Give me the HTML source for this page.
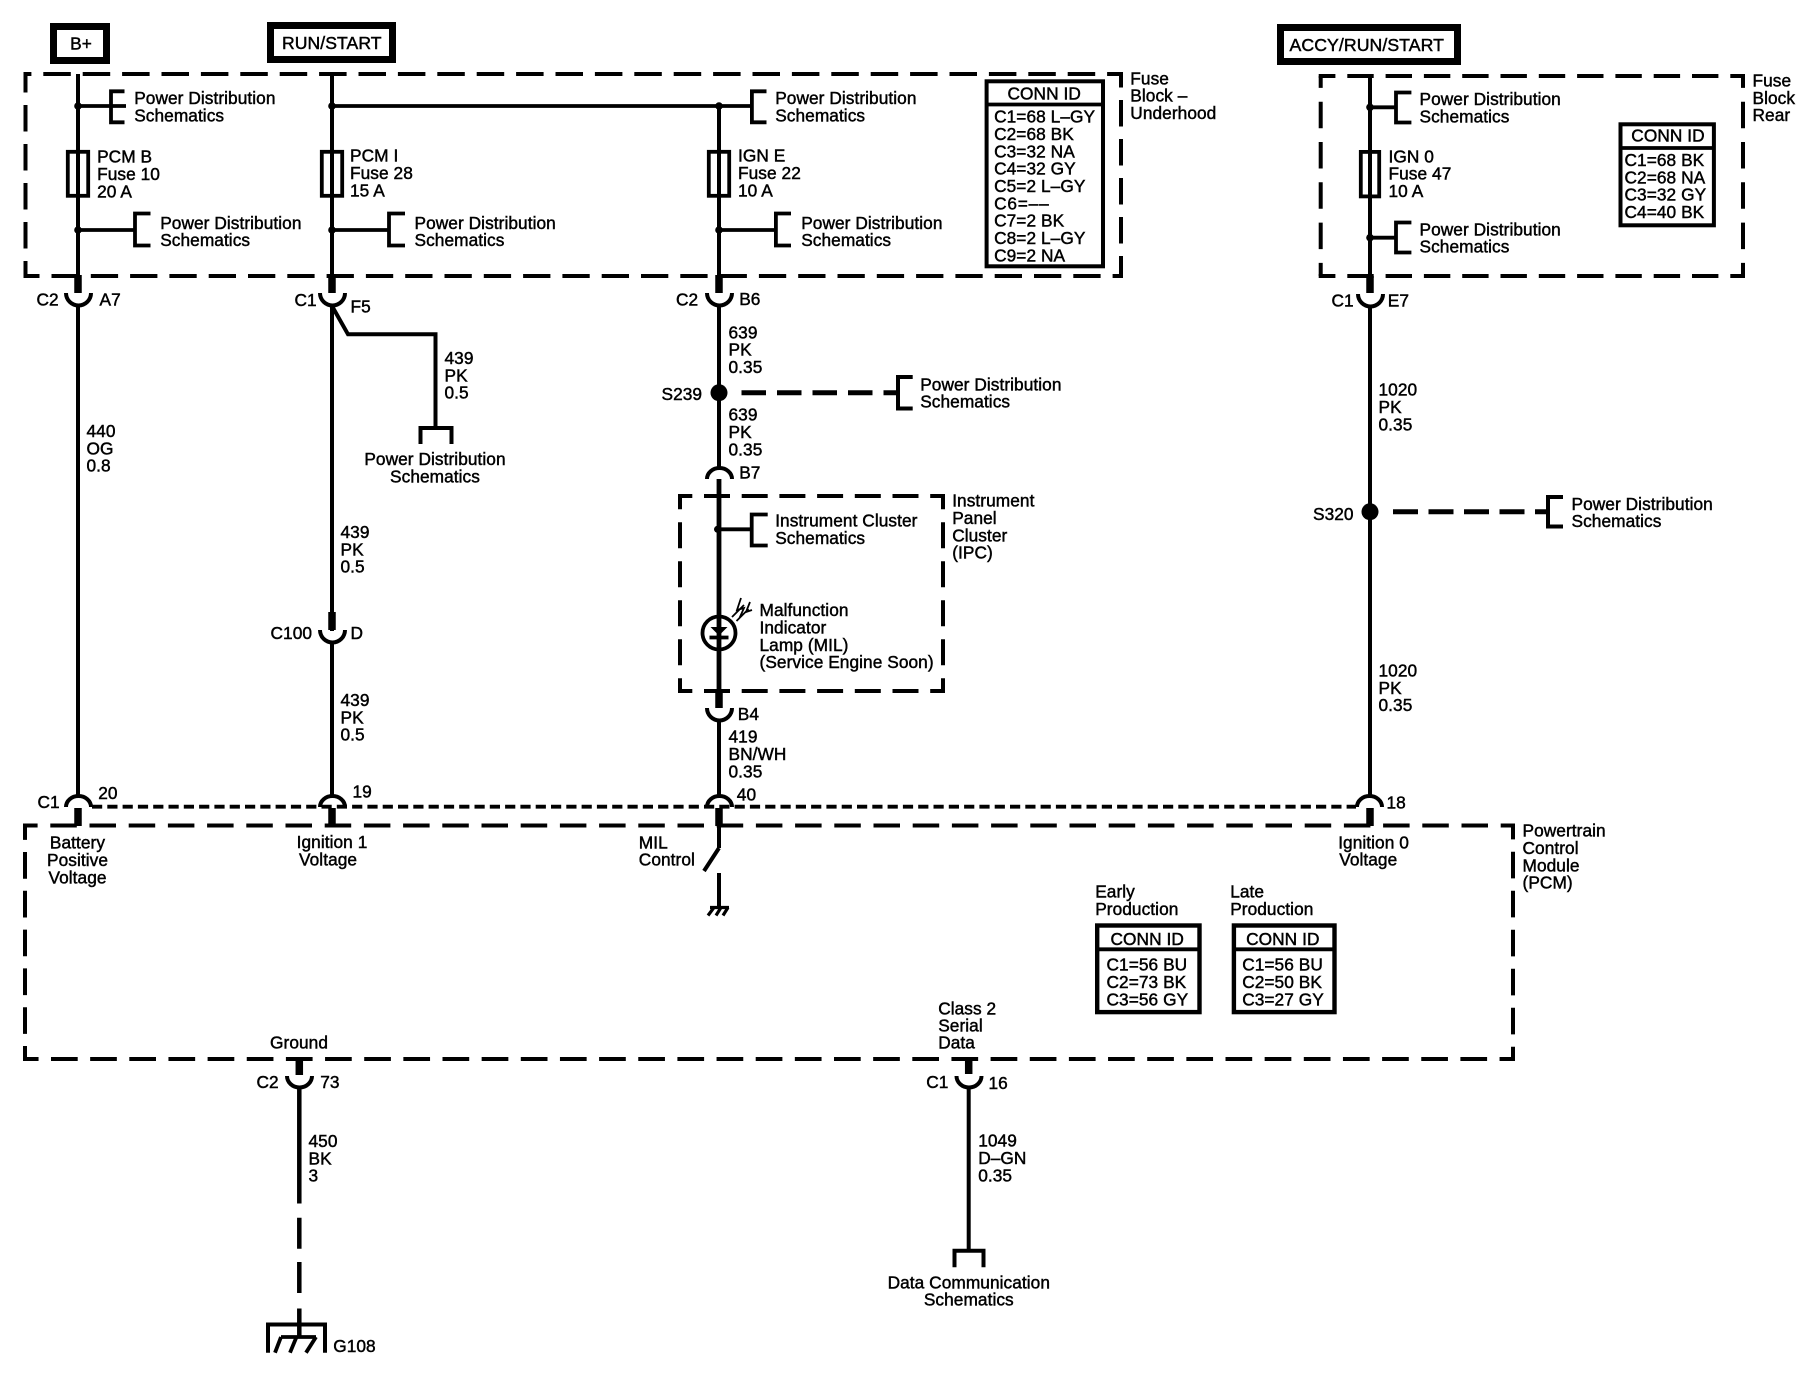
<!DOCTYPE html>
<html><head><meta charset="utf-8"><style>
html,body{margin:0;padding:0;background:#fff}
svg{display:block}
text{font-family:"Liberation Sans",sans-serif;font-size:17.3px;fill:#000;stroke:#000;stroke-width:.45px;letter-spacing:.06px;transform:translate(-.5px,0)}
.w{fill:none;stroke:#000;stroke-width:4}
.t{fill:none;stroke:#000;stroke-width:3.8}
.s{fill:none;stroke:#000;stroke-width:7.5}
.d{fill:none;stroke:#000;stroke-width:4}
.m{text-anchor:middle}
</style></head><body>
<svg width="1798" height="1392" viewBox="0 0 1798 1392" xmlns="http://www.w3.org/2000/svg">
<rect width="1798" height="1392" fill="#fff"/>

<!-- power boxes -->
<rect x="53.500" y="26.500" width="53" height="34" fill="none" stroke="#000" stroke-width="7"/>
<rect x="270.500" y="25.500" width="122" height="34" fill="none" stroke="#000" stroke-width="7"/>
<rect x="1280.500" y="27.500" width="177" height="34" fill="none" stroke="#000" stroke-width="7"/>
<text x="81.500" class="m" y="49.500">B+</text>
<text x="282.500" y="49" style="font-size:17.6px">RUN/START</text>
<text x="1290" y="51" style="font-size:17.7px">ACCY/RUN/START</text>

<!-- dashed module boxes -->
<!-- fuse block underhood -->
<path class="d" d="M25.500 74H1121" stroke-dasharray="27.500 11.900" stroke-dashoffset="21.600"/>
<path class="d" d="M25.500 276H1121" stroke-dasharray="27.300 12" stroke-dashoffset="13.300"/>
<path class="d" d="M25.500 74V276" stroke-dasharray="26.500 12.500" stroke-dashoffset="8"/>
<path class="d" d="M1121 74V276" stroke-dasharray="26.500 12.500" stroke-dashoffset="13"/>
<path d="M23.500 72h4v4h-4zM1119 72h4v4h-4zM23.500 274h4v4h-4zM1119 274h4v4h-4z"/>
<!-- fuse block rear -->
<path class="d" d="M1320.700 76H1743" stroke-dasharray="26.400 11.900" stroke-dashoffset="11.700"/>
<path class="d" d="M1320.700 276H1743" stroke-dasharray="26.400 11.900" stroke-dashoffset="11.700"/>
<path class="d" d="M1320.700 76V276" stroke-dasharray="26.500 13.800" stroke-dashoffset="14.600"/>
<path class="d" d="M1743 76V276" stroke-dasharray="26.500 13.800" stroke-dashoffset="14.600"/>
<path d="M1318.700 74h4v4h-4zM1741 74h4v4h-4zM1318.700 274h4v4h-4zM1741 274h4v4h-4z"/>
<!-- IPC -->
<path class="d" d="M680 496H943" stroke-dasharray="26 11.700" stroke-dashoffset="13.700"/>
<path class="d" d="M680 691H943" stroke-dasharray="26 11.700" stroke-dashoffset="13.700"/>
<path class="d" d="M680 496V691" stroke-dasharray="26 13" stroke-dashoffset="12.700"/>
<path class="d" d="M943 496V691" stroke-dasharray="26 13" stroke-dashoffset="12.700"/>
<path d="M678 494h4v4h-4zM941 494h4v4h-4zM678 689h4v4h-4zM941 689h4v4h-4z"/>
<!-- PCM -->
<path class="d" d="M25 825.500H1513" stroke-dasharray="26.500 12.700" stroke-dashoffset="13.900"/>
<path class="d" d="M25 1059H1513" stroke-dasharray="26.700 12.450" stroke-dashoffset="13.150"/>
<path class="d" d="M25 825.500V1059" stroke-dasharray="26.700 12.100" stroke-dashoffset="12.300"/>
<path class="d" d="M1513 825.500V1059" stroke-dasharray="26.700 12.300" stroke-dashoffset="12.800"/>
<path d="M23 823.500h4v4h-4zM1511 823.500h4v4h-4zM23 1057h4v4h-4zM1511 1057h4v4h-4z"/>
<path fill="none" stroke="#000" stroke-width="3.800" stroke-dasharray="10.200 5.100" d="M92 806.700H1356"/>

<!-- wire 1 -->
<path class="w" d="M78 74V150M78 197V275M78 305V797"/>
<path class="t" d="M78 106H126M124.500 91.300H111V122.300H124.500" style="stroke-width:3.800"/>
<circle cx="78" cy="106" r="3.800"/>
<rect x="67.800" y="151.800" width="20.400" height="44" fill="none" stroke="#000" stroke-width="3.800"/>
<path class="w" d="M78 150V198"/>
<path class="t" d="M78 230H135M150.500 213.500H135V245.500H150.500"/>
<circle cx="78" cy="230" r="3.800"/>
<path class="s" d="M78 275V293"/>
<path class="w" d="M66 293A12.500 12.500 0 0 0 91 293"/>
<path class="w" d="M66 807A12.500 11 0 0 1 91 807"/>
<path class="s" d="M78 808V826"/>
<text x="134.700" y="104">Power Distribution<tspan x="134.700" dy="17.300">Schematics</tspan></text>
<text x="97.600" y="162.300">PCM B<tspan x="97.600" dy="17.500">Fuse 10</tspan><tspan x="97.600" dy="17.500">20 A</tspan></text>
<text x="160.700" y="229">Power Distribution<tspan x="160.700" dy="17">Schematics</tspan></text>
<text x="37" y="305.500">C2</text><text x="100" y="305.500">A7</text>
<text x="87" y="437">440<tspan x="87" dy="17.300">OG</tspan><tspan x="87" dy="17.300">0.8</tspan></text>
<text x="38" y="808">C1</text><text x="98.700" y="799">20</text>
<text x="78" class="m" y="848.700">Battery<tspan x="78" dy="17.300">Positive</tspan><tspan x="78" dy="17.300">Voltage</tspan></text>

<!-- wire 2 -->
<path class="w" d="M332 74V275M332 306V797"/>
<path class="t" d="M332 106H750M766.500 91.300H751.900V122.300H766.500"/>
<circle cx="332" cy="106" r="3.800"/>
<rect x="321.800" y="151.800" width="20.400" height="44" fill="none" stroke="#000" stroke-width="3.800"/>
<path class="t" d="M332 230H389M405 213.500H389V245.500H405"/>
<circle cx="332" cy="230" r="3.800"/>
<path class="s" d="M332 275V293"/>
<path class="w" d="M320 293A12.500 12.500 0 0 0 345 293"/>
<path class="w" d="M332 306L348 334.300H435.500V428"/>
<path class="w" d="M420.500 444V428H451.500V444"/>
<path class="s" d="M332 612V630"/>
<path style="fill:#fff;stroke:#fff;stroke-width:8" d="M332 631V643"/>
<path class="w" d="M332 643V797"/>
<path class="w" d="M320 630A12.500 12.500 0 0 0 345 630"/>
<path class="w" d="M320 807A12.500 11 0 0 1 345 807"/>
<path class="s" d="M332 808V826"/>
<text x="350.500" y="161.300">PCM I<tspan x="350.500" dy="17.500">Fuse 28</tspan><tspan x="350.500" dy="17.500">15 A</tspan></text>
<text x="415" y="229">Power Distribution<tspan x="415" dy="17">Schematics</tspan></text>
<text x="295" y="306">C1</text><text x="351" y="312.700">F5</text>
<text x="445" y="364">439<tspan x="445" dy="17.300">PK</tspan><tspan x="445" dy="17.300">0.5</tspan></text>
<text x="435.500" class="m" y="465">Power Distribution<tspan x="435.500" dy="17.300">Schematics</tspan></text>
<text x="341" y="538">439<tspan x="341" dy="17.300">PK</tspan><tspan x="341" dy="17.300">0.5</tspan></text>
<text x="271" y="639">C100</text><text x="351" y="639">D</text>
<text x="341" y="706">439<tspan x="341" dy="17.300">PK</tspan><tspan x="341" dy="17.300">0.5</tspan></text>
<text x="353" y="797.500">19</text>
<text x="332.500" class="m" y="848">Ignition 1</text><text x="299.500" y="865.500">Voltage</text>

<!-- wire 3 -->
<path class="w" d="M719 106V275M719 305V468M719 479V708M719 720V797M719 808V848"/>
<rect x="708.800" y="151.800" width="20.400" height="44" fill="none" stroke="#000" stroke-width="3.800"/>
<circle cx="719" cy="106" r="3.800"/>
<path class="t" d="M719 230H775M791 213.500H775.900V245.500H791"/>
<circle cx="719" cy="230" r="3.800"/>
<path class="s" d="M719 275V293"/>
<path class="w" d="M707 293A12.500 12.500 0 0 0 732 293"/>
<circle cx="719" cy="392.700" r="8.500"/>
<path fill="none" stroke="#000" stroke-width="5" stroke-dasharray="24.500 11" d="M741.500 392.700H897"/>
<path class="w" d="M912.700 377H898V408.500H912.700"/>
<path class="w" d="M707 479A12.500 11 0 0 1 732 479"/>
<path class="w" d="M719 479V708" style="stroke-width:4.800"/>
<path class="t" d="M719 529.300H751M767.700 514.500H751.700V545.500H767.700"/>
<circle cx="717.500" cy="529.300" r="3.500"/>
<circle cx="719" cy="633" r="16.500" fill="none" stroke="#000" stroke-width="3.800"/>
<path d="M710.500 627H727.500L719 635.500Z"/>
<path class="t" d="M709.500 637.500H728.500"/>
<path fill="none" stroke="#000" stroke-width="1.800" d="M732 617L744 605M736.500 621L748.500 609M741 598L737 610L744 608L739.500 618M750 602L746 612L752 610"/>
<path class="s" d="M719 691V708"/>
<path class="w" d="M707 708A12.500 12.500 0 0 0 732 708"/>
<path class="w" d="M707 807A12.500 11 0 0 1 732 807"/>
<path class="s" d="M719 808V826"/>
<path class="w" d="M719 848L704 871M719 873V907"/>
<path class="t" d="M710 907.500H729M714 907.500L708 915.500M721 907.500L716 915.500M728 907.500L723 915.500" style="stroke-width:3.200"/>
<text x="775.700" y="104">Power Distribution<tspan x="775.700" dy="17.300">Schematics</tspan></text>
<text x="738.500" y="161.300">IGN E<tspan x="738.500" dy="17.500">Fuse 22</tspan><tspan x="738.500" dy="17.500">10 A</tspan></text>
<text x="801.700" y="229">Power Distribution<tspan x="801.700" dy="17">Schematics</tspan></text>
<text x="676.500" y="305.500">C2</text><text x="739.700" y="305">B6</text>
<text x="729" y="338.300">639<tspan x="729" dy="17.300">PK</tspan><tspan x="729" dy="17.300">0.35</tspan></text>
<text x="662" y="400">S239</text>
<text x="920.700" y="390.700">Power Distribution<tspan x="920.700" dy="17">Schematics</tspan></text>
<text x="729" y="420.700">639<tspan x="729" dy="17.300">PK</tspan><tspan x="729" dy="17.300">0.35</tspan></text>
<text x="739.700" y="478.300">B7</text>
<text x="952.700" y="506.700">Instrument<tspan x="952.700" dy="17.300">Panel</tspan><tspan x="952.700" dy="17.300">Cluster</tspan><tspan x="952.700" dy="17.300">(IPC)</tspan></text>
<text x="775.700" y="526.700">Instrument Cluster<tspan x="775.700" dy="17.300">Schematics</tspan></text>
<text x="760" y="616">Malfunction<tspan x="760" dy="17.400">Indicator</tspan><tspan x="760" dy="17.400">Lamp (MIL)</tspan><tspan x="760" dy="17.400">(Service Engine Soon)</tspan></text>
<text x="738.300" y="720">B4</text>
<text x="729" y="742.700">419<tspan x="729" dy="17.300">BN/WH</tspan><tspan x="729" dy="17.300">0.35</tspan></text>
<text x="737.300" y="800.700">40</text>
<text x="639.300" y="848.300">MIL<tspan x="639.300" dy="17">Control</tspan></text>

<!-- fuse block text & conn ids -->
<text x="1130.800" y="84.300">Fuse<tspan x="1130.800" dy="17.400">Block –</tspan><tspan x="1130.800" dy="17.400">Underhood</tspan></text>
<rect x="986.600" y="81.300" width="116.400" height="185" fill="none" stroke="#000" stroke-width="4"/>
<path class="t" d="M986 104.500H1104"/>
<text x="1044.700" class="m" y="99.300">CONN ID</text>
<text x="994.600" y="122.700">C1=68 L–GY<tspan x="994.600" dy="17.320">C2=68 BK</tspan><tspan x="994.600" dy="17.320">C3=32 NA</tspan><tspan x="994.600" dy="17.320">C4=32 GY</tspan><tspan x="994.600" dy="17.320">C5=2 L–GY</tspan><tspan x="994.600" dy="17.320" style="letter-spacing:.8px">C6=––</tspan><tspan x="994.600" dy="17.320">C7=2 BK</tspan><tspan x="994.600" dy="17.320">C8=2 L–GY</tspan><tspan x="994.600" dy="17.320">C9=2 NA</tspan></text>

<!-- wire 4 -->
<path class="w" d="M1370 76V276M1370 306V797"/>
<path class="t" d="M1370 107.300H1396M1411.400 92.500H1396V122.500H1411.400"/>
<circle cx="1370" cy="107.300" r="3.800"/>
<rect x="1360.800" y="151.900" width="18.400" height="44.500" fill="none" stroke="#000" stroke-width="3.800"/>
<path class="t" d="M1370 237.700H1396M1411.400 222.500H1396V252.500H1411.400"/>
<circle cx="1370" cy="237.700" r="3.800"/>
<path class="s" d="M1370 276V293"/>
<path class="w" d="M1358 294A12.500 12.500 0 0 0 1383 294"/>
<circle cx="1370" cy="511.700" r="8.500"/>
<path fill="none" stroke="#000" stroke-width="5" stroke-dasharray="25 10.500" d="M1393 511.700H1548"/>
<path class="w" d="M1563 497H1548V526.500H1563"/>
<path class="w" d="M1357 807A12.500 11 0 0 1 1382 807"/>
<path class="s" d="M1370 808V826"/>
<text x="1420" y="105">Power Distribution<tspan x="1420" dy="17.300">Schematics</tspan></text>
<text x="1389" y="162.300">IGN 0<tspan x="1389" dy="17.300">Fuse 47</tspan><tspan x="1389" dy="17.300">10 A</tspan></text>
<text x="1420" y="235.300">Power Distribution<tspan x="1420" dy="17">Schematics</tspan></text>
<text x="1753" y="86.700">Fuse<tspan x="1753" dy="17.200">Block</tspan><tspan x="1753" dy="17.200">Rear</tspan></text>
<rect x="1620.500" y="124.300" width="93.400" height="101" fill="none" stroke="#000" stroke-width="4"/>
<path class="t" d="M1620 148H1715"/>
<text x="1668.500" class="m" y="141.700">CONN ID</text>
<text x="1625" y="166">C1=68 BK<tspan x="1625" dy="17.300">C2=68 NA</tspan><tspan x="1625" dy="17.300">C3=32 GY</tspan><tspan x="1625" dy="17.300">C4=40 BK</tspan></text>
<text x="1332" y="306.700">C1</text><text x="1388.300" y="306.700">E7</text>
<text x="1379" y="395.700">1020<tspan x="1379" dy="17.300">PK</tspan><tspan x="1379" dy="17.300">0.35</tspan></text>
<text x="1313.500" y="520">S320</text>
<text x="1572" y="510">Power Distribution<tspan x="1572" dy="16.800">Schematics</tspan></text>
<text x="1379" y="676.700">1020<tspan x="1379" dy="17.200">PK</tspan><tspan x="1379" dy="17.200">0.35</tspan></text>
<text x="1387" y="808.300">18</text>
<text x="1338.700" y="848.300">Ignition 0</text><text x="1339.700" y="865.700">Voltage</text>
<text x="1523" y="836.700">Powertrain<tspan x="1523" dy="17.300">Control</tspan><tspan x="1523" dy="17.300">Module</tspan><tspan x="1523" dy="17.300">(PCM)</tspan></text>

<!-- production conn ids -->
<text x="1095.700" y="897.700">Early<tspan x="1095.700" dy="17.300">Production</tspan></text>
<text x="1230.700" y="897.700">Late<tspan x="1230.700" dy="17.300">Production</tspan></text>
<rect x="1097.200" y="925.500" width="102.300" height="86.600" fill="none" stroke="#000" stroke-width="4.400"/>
<path class="t" d="M1096 949.300H1201"/>
<text x="1147.700" class="m" y="945">CONN ID</text>
<text x="1107" y="970.700">C1=56 BU<tspan x="1107" dy="17.300">C2=73 BK</tspan><tspan x="1107" dy="17.300">C3=56 GY</tspan></text>
<rect x="1233.900" y="925.500" width="100.600" height="86.600" fill="none" stroke="#000" stroke-width="4.400"/>
<path class="t" d="M1233 949.300H1336"/>
<text x="1283.300" class="m" y="945">CONN ID</text>
<text x="1242.700" y="970.700">C1=56 BU<tspan x="1242.700" dy="17.300">C2=50 BK</tspan><tspan x="1242.700" dy="17.300">C3=27 GY</tspan></text>

<!-- ground wire -->
<path class="s" d="M299.300 1059V1075"/>
<path class="w" d="M287 1076A12.500 11.500 0 0 0 312 1076"/>
<path fill="none" stroke="#000" stroke-width="4.500" d="M299.300 1088V1203.500M299.300 1217.700V1248.700M299.300 1262V1293M299.300 1308.500V1337"/>
<path class="w" d="M268 1352.700V1324.500H325V1352.700"/>
<path class="t" d="M281 1337H316"/>
<path class="t" d="M281 1337L275 1352.700M296.500 1337L290 1352.700M316 1337L306 1352.700"/>
<text x="270.500" y="1048.700">Ground</text>
<text x="257" y="1088">C2</text><text x="320.700" y="1088">73</text>
<text x="309" y="1147">450<tspan x="309" dy="17.300">BK</tspan><tspan x="309" dy="17.300">3</tspan></text>
<text x="333.700" y="1352">G108</text>

<!-- data wire -->
<path class="s" d="M968.700 1059V1074"/>
<path class="w" d="M956.500 1076A12.500 11.500 0 0 0 981.500 1076"/>
<path class="w" d="M968.700 1088V1250.700"/>
<path class="w" d="M954.500 1267.300V1250.700H983.500V1267.300"/>
<text x="938.700" y="1014.300">Class 2<tspan x="938.700" dy="17">Serial</tspan><tspan x="938.700" dy="17">Data</tspan></text>
<text x="926.700" y="1088">C1</text><text x="989" y="1089">16</text>
<text x="978.700" y="1146.700">1049<tspan x="978.700" dy="17.500">D–GN</tspan><tspan x="978.700" dy="17.500">0.35</tspan></text>
<text x="969.300" class="m" y="1288.300">Data Communication<tspan x="969.300" dy="17">Schematics</tspan></text>
</svg>
</body></html>
